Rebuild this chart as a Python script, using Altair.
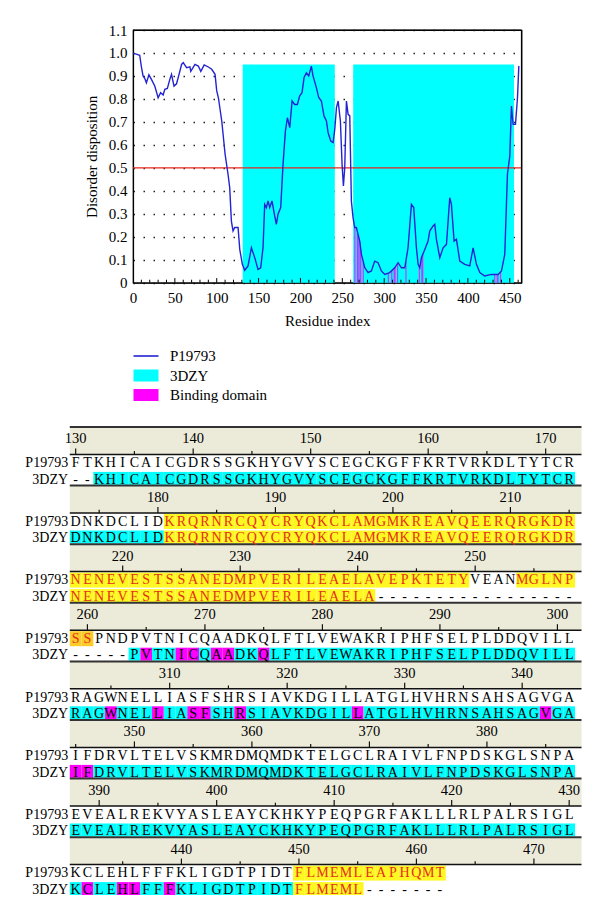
import altair as alt
import pandas as pd

# ---------------- data ----------------
res_x = [0, 4, 8, 10, 12, 14, 16, 19, 22, 26, 30, 33, 36, 38, 41, 44, 46, 49, 52, 55,
         58, 60, 64, 68, 69, 74, 78, 81, 85, 90, 94, 98, 100, 102, 106, 110, 113.5, 115.5,
         117.5, 119.5, 121.5, 125.5, 127.5, 130.6, 133.4, 137.4, 141.4, 145.4, 149.3, 152.5,
         155.3, 157.3, 159.3, 161.3, 163.3, 166, 168.5, 171.2, 173.2, 176.4, 179.2, 182,
         184.4, 187.2, 190, 193.1, 196.3, 199.1, 201.9, 204.3, 207.1, 209.9, 213, 215, 219,
         221.8, 225, 228.1, 231, 233, 236.2, 239, 241, 243, 245, 247.7, 249.7, 251.3, 252.9,
         254.9, 256.9, 258.9, 260.8, 262.8, 264.8, 266.8, 268.8, 270.8, 272.8, 276.8, 280.8,
         284.7, 288.7, 292.7, 296.7, 300.7, 306.6, 312.6, 316.6, 320.6, 324.6, 328.5, 332.5,
         335.3, 338.5, 340.5, 342.5, 344.5, 348.5, 352.4, 354.4, 358.4, 360.4, 362.4, 366.4,
         370.4, 374.4, 378.3, 380.3, 383.5, 386.3, 390.3, 396.3, 402.2, 406.2, 410.2, 414.2,
         420.1, 428.1, 436.1, 440.1, 444, 447.2, 450, 452, 454, 456.8, 459.2, 460.8]
disorder = [0.998, 0.995, 0.99, 0.94, 0.90, 0.89, 0.87, 0.905, 0.885, 0.856, 0.805, 0.827,
            0.817, 0.842, 0.846, 0.885, 0.907, 0.856, 0.866, 0.907, 0.95, 0.958, 0.936, 0.94,
            0.92, 0.95, 0.943, 0.92, 0.948, 0.939, 0.929, 0.907, 0.835, 0.805, 0.704, 0.559,
            0.472, 0.414, 0.268, 0.225, 0.24, 0.24, 0.145, 0.08, 0.054, 0.073, 0.152, 0.109,
            0.058, 0.065, 0.152, 0.341, 0.327, 0.356, 0.327, 0.356, 0.305, 0.254, 0.298, 0.327,
            0.515, 0.66, 0.718, 0.675, 0.791, 0.776, 0.776, 0.813, 0.827, 0.893, 0.914, 0.90,
            0.943, 0.90, 0.849, 0.806, 0.791, 0.726, 0.704, 0.653, 0.617, 0.61, 0.668, 0.762,
            0.791, 0.704, 0.515, 0.421, 0.50, 0.791, 0.733, 0.726, 0.356, 0.283, 0.24, 0.24,
            0.21, 0.181, 0.123, 0.065, 0.044, 0.051, 0.094, 0.087, 0.051, 0.036, 0.044, 0.065,
            0.087, 0.065, 0.065, 0.152, 0.341, 0.327, 0.152, 0.08, 0.065, 0.109, 0.145, 0.181,
            0.225, 0.247, 0.254, 0.189, 0.109, 0.152, 0.167, 0.37, 0.341, 0.181, 0.189, 0.094,
            0.08, 0.073, 0.152, 0.08, 0.044, 0.029, 0.036, 0.036, 0.051, 0.123, 0.472, 0.551,
            0.769, 0.689, 0.689, 0.805, 0.943]

cyan_start = [131, 263]
cyan_end = [241, 455]
cyan_top = 0.95
cutoff = 0.5

bind_res = [265, 268, 269, 271, 272, 275, 305, 309, 312, 313, 316, 326, 342, 345, 346,
            432, 435, 436, 439]
bind_val = [0.24, 0.215, 0.205, 0.175, 0.145, 0.09, 0.042, 0.055, 0.063, 0.068, 0.085,
            0.09, 0.068, 0.11, 0.125, 0.036, 0.036, 0.036, 0.047]

x_tick_labels = [0, 50, 100, 150, 200, 250, 300, 350, 400, 450]
y_tick_labels = [0, 0.1, 0.2, 0.3, 0.4, 0.5, 0.6, 0.7, 0.8, 0.9, 1.0, 1.1]
x_minor_ticks = list(range(10, 461, 10))

legend_items = ["P19793", "3DZY", "Binding domain"]

seq_names = ["P19793", "3DZY"]
block_start = [130, 173, 216, 259, 302, 345, 388, 431]
p_rows = [
    "FTKHICAICGDRSSGKHYGVYSCEGCKGFFKRTVRKDLTYTCR",
    "DNKDCLIDKRQRNRCQYCRYQKCLAMGMKREAVQEERQRGKDR",
    "NENEVESTSSANEDMPVERILEAELAVEPKTETYVEANMGLNP",
    "SSPNDPVTNICQAADKQLFTLVEWAKRIPHFSELPLDDQVILL",
    "RAGWNELLIASFSHRSIAVKDGILLATGLHVHRNSAHSAGVGA",
    "IFDRVLTELVSKMRDMQMDKTELGCLRAIVLFNPDSKGLSNPA",
    "EVEALREKVYASLEAYCKHKYPEQPGRFAKLLLRLPALRSIGL",
    "KCLEHLFFFKLIGDTPIDTFLMEMLEAPHQMT",
]
d_rows = [
    "--KHICAICGDRSSGKHYGVYSCEGCKGFFKRTVRKDLTYTCR",
    "DNKDCLIDKRQRNRCQYCRYQKCLAMGMKREAVQEERQRGKDR",
    "NENEVESTSSANEDMPVERILEAELA-----------------",
    "-----PVTNICQAADKQLFTLVEWAKRIPHFSELPLDDQVILL",
    "RAGWNELLIASFSHRSIAVKDGILLATGLHVHRNSAHSAGVGA",
    "IFDRVLTELVSKMRDMQMDKTELGCLRAIVLFNPDSKGLSNPA",
    "EVEALREKVYASLEAYCKHKYPEQPGRFAKLLLRLPALRSIGL",
    "KCLEHLFFFKLIGDTPIDTFLMEML-------",
]
# highlight classes: . none, c 3DZY, m binding, y / o disordered segment
p_marks = [
    "." * 43,
    "." * 8 + "y" * 35,
    "y" * 34 + "." * 4 + "y" * 5,
    "oo" + "." * 41,
    "." * 43,
    "." * 43,
    "." * 43,
    "." * 19 + "y" * 13,
]
d_marks = [
    ".." + "c" * 41,
    "c" * 8 + "y" * 35,
    "y" * 26 + "." * 17,
    "....." + "cmccmmcmmccm" + "c" * 26,
    "ccc" + "m" + "ccc" + "m" + "cc" + "mm" + "cc" + "m" + "c" * 9 + "m" + "c" * 15 + "m" + "cc",
    "mm" + "c" * 41,
    "c" * 43,
    "c" + "m" + "cc" + "mm" + "cc" + "m" + "c" * 10 + "y" * 6 + "." * 7,
]

# ---------------- styles ----------------
FONT = "Liberation Serif"
BLUE = "#2323d2"
RED = "#e8261c"
CYAN = "#00ffff"
MAGENTA = "#ff00ff"
YELLOW = "#fff722"
GOLD = "#fccb2a"
BEIGE = "#ecead9"
TEXT_RED = "#e3301c"
BG = {"c": CYAN, "m": MAGENTA, "y": YELLOW, "o": GOLD}
NO_FRAME = alt.ViewBackground(strokeWidth=0, strokeOpacity=0)

one = pd.DataFrame({"k": [0]})
LEFT = 123.5   # distance from page content edge to the shared plot origin

# ================= chart A : disorder profile =================
W_A, H_A = 388.5, 252.7
Y_TOP = 1.1
X_END = 464
xs = alt.Scale(domain=[0, X_END], nice=False, zero=False)
ys = alt.Scale(domain=[0, Y_TOP], nice=False, zero=False)

X_AX = alt.Axis(values=x_tick_labels, title="Residue index", titleFont=FONT,
                titleFontSize=15, titleFontWeight="normal", titleColor="black",
                titleY=38, titleBaseline="middle", labelFont=FONT, labelFontSize=15,
                labelColor="black", labelPadding=8, tickSize=0, domain=True,
                domainColor="black", domainWidth=1.2, grid=False,
                labelFlush=False, labelOverlap=False)
Y_AX = alt.Axis(values=y_tick_labels,
                labelExpr="datum.value == 0 ? '0' : format(datum.value, '.1f')",
                title="Disorder disposition", titleFont=FONT, titleFontSize=15,
                titleFontWeight="normal", titleColor="black", titleX=-42, titleY=H_A / 2,
                titleBaseline="middle", titleAlign="center", titleAngle=-90,
                labelFont=FONT, labelFontSize=15, labelColor="black", labelPadding=6,
                tickSize=0, domain=True, domainColor="black", domainWidth=1.2,
                grid=True, gridDash=[1.5, 8.5],
                gridColor="#222222", gridWidth=1.3, labelOverlap=False)


def XA(f):
    return alt.X(f, type="quantitative", scale=xs, axis=X_AX)


def YA(f):
    return alt.Y(f, type="quantitative", scale=ys, axis=Y_AX)


curve_df = pd.DataFrame({"x": res_x, "y": disorder})
cyan_df = pd.DataFrame({"x0": cyan_start, "x1": cyan_end})
cyan_df["y0"] = 0.0
cyan_df["y1"] = cyan_top
bind_df = pd.DataFrame({"r": bind_res, "v": bind_val})
bind_df["x0"] = bind_df["r"] - 0.7
bind_df["x1"] = bind_df["r"] + 0.7
bind_df["y0"] = 0.0
cut_df = pd.DataFrame({"x0": [0], "x1": [X_END], "y": [cutoff]})
tick_df = pd.DataFrame({"t": x_minor_ticks})
tick_df["y0"] = 0.0
tick_df["y1"] = [0.02 if t % 50 == 0 else 0.013 for t in x_minor_ticks]
top_df = pd.DataFrame({"x0": [0], "x1": [X_END], "y": [Y_TOP]})
right_df = pd.DataFrame({"x": [X_END], "y0": [0], "y1": [Y_TOP]})

spacer_a = alt.Chart(one).mark_rect(opacity=0).encode(
    x=alt.value(-LEFT), x2=alt.value(0), y=alt.value(-21), y2=alt.value(311))
cyan_l = alt.Chart(cyan_df).mark_rect(color=CYAN).encode(
    x=XA("x0"), x2="x1", y=YA("y0"), y2="y1")
bind_l = alt.Chart(bind_df).mark_rect(color=MAGENTA, opacity=0.8).encode(
    x=XA("x0"), x2="x1", y=YA("y0"), y2="v")
cut_l = alt.Chart(cut_df).mark_rule(color=RED, strokeWidth=1.3).encode(
    x=XA("x0"), x2="x1", y=YA("y"))
tick_l = alt.Chart(tick_df).mark_rule(color="black", strokeWidth=1).encode(
    x=XA("t"), y=YA("y0"), y2="y1")
line_l = alt.Chart(curve_df).mark_line(color=BLUE, strokeWidth=1.4).encode(
    x=XA("x"), y=YA("y"))
top_l = alt.Chart(top_df).mark_rule(color="black", strokeWidth=1.2).encode(
    x=XA("x0"), x2="x1", y=YA("y"))
right_l = alt.Chart(right_df).mark_rule(color="black", strokeWidth=1.2).encode(
    x=XA("x"), y=YA("y0"), y2="y1")

chart_a = alt.layer(spacer_a, cyan_l, bind_l, cut_l, tick_l, line_l, top_l,
                    right_l).properties(
    width=W_A, height=H_A,
    view=alt.ViewBackground(stroke="black", strokeWidth=1.2))

# ================= chart L : legend =================
H_L = 72
leg = pd.DataFrame({"label": legend_items, "color": [BLUE, CYAN, MAGENTA]})
leg["pos"] = [14 + 19.5 * i for i in range(len(legend_items))]
leg["top"] = leg["pos"] - 6
leg["bot"] = leg["pos"] + 6
ls = alt.Scale(domain=[0, H_L], reverse=True, nice=False, zero=False)

spacer_l = alt.Chart(one).mark_rect(opacity=0).encode(
    x=alt.value(-LEFT), x2=alt.value(0), y=alt.value(0), y2=alt.value(H_L))
leg_line = alt.Chart(leg.iloc[[0]]).mark_rule(strokeWidth=1.6).encode(
    x=alt.value(0.5), x2=alt.value(25.5),
    y=alt.Y("pos:Q", scale=ls, axis=None), color=alt.Color("color:N", scale=None))
leg_box = alt.Chart(leg.iloc[1:]).mark_rect().encode(
    x=alt.value(0.5), x2=alt.value(25.5),
    y=alt.Y("top:Q", scale=ls, axis=None), y2="bot:Q",
    color=alt.Color("color:N", scale=None))
leg_text = alt.Chart(leg).mark_text(align="left", baseline="middle", font=FONT,
                                     fontSize=15, color="black").encode(
    x=alt.value(37), y=alt.Y("pos:Q", scale=ls, axis=None), text="label:N")
chart_l = alt.layer(spacer_l, leg_line, leg_box, leg_text).properties(
    width=200, height=H_L, view=NO_FRAME)

# ================= chart C : alignment =================
PX = 58.6                 # pixels per block
NB = len(block_start)
H_C = NB * PX
CW = 11.75                # pixels per residue column
BAND = 27.4 / PX          # beige band height
LABEL_OFF = 12.4 / PX
ROW_OFF = [36.2 / PX, 52.5 / PX]
BG_OFF = [(BAND + 1 / PX, BAND + 16 / PX), (BAND + 17.5 / PX, BAND + 30.4 / PX)]
XMAX = 43.05
C_LEFT = -0.5 + 63.2 / CW          # column value found under the shared plot origin
W_C = (XMAX - C_LEFT) * CW

cx = alt.Scale(domain=[C_LEFT, XMAX], nice=False, zero=False)
cy = alt.Scale(domain=[0, NB], reverse=True, nice=False, zero=False)

bands, lines, ticks, nums, chars, bgs, names = [], [], [], [], [], [], []
for i, start in enumerate(block_start):
    bands.append({"x0": -0.5, "x1": XMAX, "y0": i, "y1": i + BAND})
    lines.append({"x0": -0.5, "x1": XMAX, "y": i, "kind": "top"})
    lines.append({"x0": -0.5, "x1": XMAX, "y": i + BAND, "kind": "base"})
    for r in range(start, start + 43):
        if r % 5 == 0:
            c = r - start
            ln = 6 if r % 10 == 0 else 3.3
            ticks.append({"x": c, "y0": i + BAND, "y1": i + BAND - ln / PX})
            if r % 10 == 0:
                nums.append({"x": c, "y": i + LABEL_OFF, "t": str(r)})
    for k, (rows, marks) in enumerate(((p_rows, p_marks), (d_rows, d_marks))):
        names.append({"x": -0.64, "y": i + ROW_OFF[k], "t": seq_names[k]})
        for c, (ch, cl) in enumerate(zip(rows[i], marks[i])):
            chars.append({"x": c, "y": i + ROW_OFF[k], "t": ch,
                          "col": TEXT_RED if cl in "yo" else "black"})
            if cl != ".":
                bgs.append({"x0": c - 0.5, "x1": c + 0.5, "y0": i + BG_OFF[k][0],
                            "y1": i + BG_OFF[k][1], "col": BG[cl]})

bands_df = pd.DataFrame(bands)
lines_df = pd.DataFrame(lines)
ticks_df = pd.DataFrame(ticks)
nums_df = pd.DataFrame(nums)
chars_df = pd.DataFrame(chars)
bgs_df = pd.DataFrame(bgs)
names_df = pd.DataFrame(names)


def XC(f):
    return alt.X(f, type="quantitative", scale=cx, axis=None)


def YC(f):
    return alt.Y(f, type="quantitative", scale=cy, axis=None)


spacer_c = alt.Chart(one).mark_rect(opacity=0).encode(
    x=alt.value(-LEFT), x2=alt.value(0), y=alt.value(-12.3), y2=alt.value(0))
band_l = alt.Chart(bands_df).mark_rect(color=BEIGE).encode(
    x=XC("x0"), x2="x1", y=YC("y0"), y2="y1")
bg_l = alt.Chart(bgs_df).mark_rect().encode(
    x=XC("x0"), x2="x1", y=YC("y0"), y2="y1", color=alt.Color("col:N", scale=None))
line_top = alt.Chart(lines_df[lines_df.kind == "top"]).mark_rule(
    color="#333333", strokeWidth=2).encode(x=XC("x0"), x2="x1", y=YC("y"))
line_base = alt.Chart(lines_df[lines_df.kind == "base"]).mark_rule(
    color="#111111", strokeWidth=1.5).encode(x=XC("x0"), x2="x1", y=YC("y"))
tick_c = alt.Chart(ticks_df).mark_rule(color="#111111", strokeWidth=1.2).encode(
    x=XC("x"), y=YC("y0"), y2="y1")
num_l = alt.Chart(nums_df).mark_text(font=FONT, fontSize=14.5, color="black",
                                      baseline="middle", align="center").encode(
    x=XC("x"), y=YC("y"), text="t:N")
char_l = alt.Chart(chars_df).mark_text(font=FONT, fontSize=14, baseline="middle",
                                        align="center").encode(
    x=XC("x"), y=YC("y"), text="t:N", color=alt.Color("col:N", scale=None))
name_l = alt.Chart(names_df).mark_text(font=FONT, fontSize=14, baseline="middle",
                                        align="right", color="black").encode(
    x=XC("x"), y=YC("y"), text="t:N")

chart_c = alt.layer(spacer_c, band_l, bg_l, line_top, line_base, tick_c, num_l, char_l,
                    name_l).properties(width=W_C, height=H_C, view=NO_FRAME)

chart = alt.vconcat(chart_a, chart_l, chart_c, spacing=0).properties(padding=0)

chart.save("out.html", embed_options={"renderer": "svg", "actions": False})
